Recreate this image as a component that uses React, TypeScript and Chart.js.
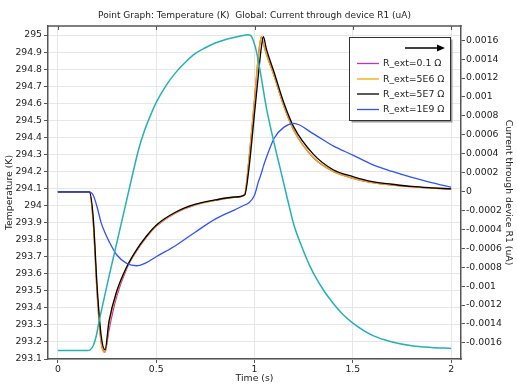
import React, { useEffect, useRef } from "react";
import { Chart, registerables } from "chart.js";

Chart.register(...registerables);

const titleText = "Point Graph: Temperature (K)  Global: Current through device R1 (uA)";
const xTitle = "Time (s)";
const yLeftTitle = "Temperature (K)";
const yRightTitle = "Current through device R1 (uA)";

const seriesLabels = ["R_ext=0.1 Ω", "R_ext=5E6 Ω", "R_ext=5E7 Ω", "R_ext=1E9 Ω"];
const seriesColors = ["#c22fc2", "#f5a800", "#000000", "#3352f2"];
const currentColor = "#26b0b4";

const tempTimes = [0, 0.1, 0.16, 0.18, 0.2, 0.22, 0.24, 0.26, 0.3, 0.35, 0.4, 0.45, 0.5, 0.6, 0.7, 0.8, 0.9, 0.95, 0.97, 1.0, 1.02, 1.035, 1.045, 1.06, 1.1, 1.15, 1.2, 1.3, 1.4, 1.5, 1.6, 1.7, 1.8, 1.9, 2.0];
const tempR01 = [294.08, 294.08, 294.08, 293.9, 293.48, 293.2, 293.14, 293.27, 293.47, 293.63, 293.733, 293.813, 293.878, 293.957, 294.004, 294.03, 294.048, 294.065, 294.25, 294.62, 294.88, 294.99, 294.95, 294.89, 294.76, 294.58, 294.44, 294.28, 294.2, 294.16, 294.135, 294.12, 294.11, 294.102, 294.096];
const tempR5E6 = [294.08, 294.08, 294.08, 293.9, 293.48, 293.2, 293.14, 293.3, 293.49, 293.635, 293.735, 293.815, 293.88, 293.958, 294.005, 294.03, 294.048, 294.065, 294.25, 294.62, 294.88, 294.99, 294.95, 294.89, 294.76, 294.58, 294.44, 294.28, 294.2, 294.16, 294.135, 294.12, 294.11, 294.102, 294.096];
const tempR5E7 = [294.08, 294.08, 294.08, 293.93, 293.52, 293.24, 293.153, 293.32, 293.5, 293.64, 293.74, 293.82, 293.885, 293.962, 294.008, 294.033, 294.05, 294.062, 294.2, 294.54, 294.77, 294.93, 294.99, 294.92, 294.78, 294.6, 294.46, 294.3, 294.21, 294.17, 294.14, 294.125, 294.112, 294.104, 294.098];
const tempR1E9 = [294.08, 294.08, 294.08, 294.06, 293.99, 293.9, 293.84, 293.79, 293.71, 293.661, 293.647, 293.665, 293.7, 293.766, 293.845, 293.92, 293.975, 294.003, 294.015, 294.06, 294.14, 294.19, 294.23, 294.28, 294.395, 294.46, 294.482, 294.42, 294.35, 294.296, 294.24, 294.2, 294.165, 294.135, 294.108];

const currentTimes = [0, 0.15, 0.165, 0.18, 0.195, 0.21, 0.23, 0.26, 0.3, 0.34, 0.38, 0.41, 0.44, 0.47, 0.5, 0.55, 0.6, 0.65, 0.7, 0.75, 0.8, 0.85, 0.9, 0.95, 0.965, 0.98, 0.995, 1.01, 1.03, 1.06, 1.1, 1.13, 1.17, 1.2, 1.24, 1.28, 1.32, 1.36, 1.4, 1.45, 1.5, 1.6, 1.7, 1.8, 1.9, 2.0];
const currentValues = [-0.00168, -0.00168, -0.001672, -0.00163, -0.00153, -0.00137, -0.00118, -0.0009, -0.00054, -0.00018, 0.00018, 0.00044, 0.00064, 0.0008, 0.00094, 0.00112, 0.00126, 0.00137, 0.00146, 0.00152, 0.00157, 0.001605, 0.00163, 0.001652, 0.001658, 0.00165, 0.00159, 0.00148, 0.00126, 0.00089, 0.00051, 0.00025, -0.0001, -0.00035, -0.00058, -0.00078, -0.00094, -0.00107, -0.00118, -0.0013, -0.00139, -0.00152, -0.00159, -0.00163, -0.001648, -0.001658];

const xTicks = [0, 0.5, 1, 1.5, 2];
const leftTicks = [293.1, 293.2, 293.3, 293.4, 293.5, 293.6, 293.7, 293.8, 293.9, 294, 294.1, 294.2, 294.3, 294.4, 294.5, 294.6, 294.7, 294.8, 294.9, 295];
const rightTicks = [-0.0016, -0.0014, -0.0012, -0.001, -0.0008, -0.0006, -0.0004, -0.0002, 0, 0.0002, 0.0004, 0.0006, 0.0008, 0.001, 0.0012, 0.0014, 0.0016];

const FONT = '"DejaVu Sans", sans-serif';
const TEXT = "#222222";
const AXIS = "#555555";

function pts(xs: number[], ys: number[]) {
  return xs.map((x, i) => ({ x, y: ys[i] }));
}

const decorPlugin = {
  id: "decor",
  afterDatasetsDraw(chart: any) {
    const { ctx, chartArea: a } = chart;
    const xs = chart.scales.x;
    ctx.save();
    // top border + inner ticks
    ctx.strokeStyle = AXIS;
    ctx.lineWidth = 1.5;
    ctx.beginPath();
    ctx.moveTo(a.left - 0.75, a.top);
    ctx.lineTo(a.right + 0.75, a.top);
    ctx.stroke();
    ctx.lineWidth = 1;
    xTicks.forEach((v) => {
      const px = Math.round(xs.getPixelForValue(v)) + 0.5;
      ctx.beginPath();
      ctx.moveTo(px, a.top);
      ctx.lineTo(px, a.top + 4);
      ctx.stroke();
    });

    // title
    ctx.fillStyle = TEXT;
    ctx.font = `9px ${FONT}`;
    ctx.textAlign = "center";
    ctx.textBaseline = "middle";
    ctx.fillText(titleText, (a.left + a.right) / 2, 16);

    // axis titles
    ctx.font = `9.3px ${FONT}`;
    ctx.fillText(xTitle, (a.left + a.right) / 2, 379);
    ctx.save();
    ctx.translate(10, (a.top + a.bottom) / 2);
    ctx.rotate(-Math.PI / 2);
    ctx.fillText(yLeftTitle, 0, 0);
    ctx.restore();
    ctx.save();
    ctx.translate(508, (a.top + a.bottom) / 2);
    ctx.rotate(Math.PI / 2);
    ctx.fillText(yRightTitle, 0, 0);
    ctx.restore();

    // legend
    const L = 349.5, T = 37.5, W = 101, H = 83;
    ctx.fillStyle = "#9a9a9a";
    ctx.fillRect(L + 2, T + 2, W, H);
    ctx.fillStyle = "#ffffff";
    ctx.fillRect(L, T, W, H);
    ctx.strokeStyle = "#333333";
    ctx.lineWidth = 1;
    ctx.strokeRect(L, T, W, H);

    // arrow row
    ctx.strokeStyle = "#000000";
    ctx.lineWidth = 1.5;
    ctx.beginPath();
    ctx.moveTo(405, 48);
    ctx.lineTo(440, 48);
    ctx.stroke();
    ctx.fillStyle = "#000000";
    ctx.beginPath();
    ctx.moveTo(445, 48);
    ctx.lineTo(437, 44.5);
    ctx.lineTo(437, 51.5);
    ctx.closePath();
    ctx.fill();

    const rowsY = [63.5, 79, 94, 109.5];
    ctx.textAlign = "left";
    ctx.font = `9.3px ${FONT}`;
    seriesLabels.forEach((lab, i) => {
      ctx.strokeStyle = seriesColors[i];
      ctx.lineWidth = 1.3;
      ctx.beginPath();
      ctx.moveTo(357, rowsY[i]);
      ctx.lineTo(379, rowsY[i]);
      ctx.stroke();
      ctx.fillStyle = TEXT;
      ctx.fillText(lab, 383, rowsY[i] + 0.5);
    });
    ctx.restore();
  },
};

export default function App() {
  const ref = useRef<HTMLCanvasElement | null>(null);
  useEffect(() => {
    if (!ref.current) return;
    const tempSets = [tempR01, tempR5E6, tempR5E7, tempR1E9];
    const datasets: any[] = tempSets.map((arr, i) => ({
      label: seriesLabels[i],
      data: pts(tempTimes, arr),
      borderColor: seriesColors[i],
      backgroundColor: seriesColors[i],
      borderWidth: 1.3,
      pointRadius: 0,
      cubicInterpolationMode: "monotone",
      yAxisID: "y",
      order: 5 - i,
    }));
    datasets.push({
      label: "Current",
      data: pts(currentTimes, currentValues),
      borderColor: currentColor,
      backgroundColor: currentColor,
      borderWidth: 1.5,
      pointRadius: 0,
      cubicInterpolationMode: "monotone",
      yAxisID: "y1",
      order: 0,
    });

    const tickFont = { family: FONT, size: 9.3 };
    const chart = new Chart(ref.current, {
      type: "line",
      data: { datasets },
      plugins: [decorPlugin],
      options: {
        responsive: false,
        animation: false,
        devicePixelRatio: 1,
        layout: { padding: { top: 26, left: 0, right: 0, bottom: 0 } },
        plugins: { legend: { display: false }, title: { display: false }, tooltip: { enabled: false } },
        scales: {
          x: {
            type: "linear",
            min: -0.05,
            max: 2.05,
            afterBuildTicks: (s: any) => {
              s.ticks = xTicks.map((v) => ({ value: v }));
            },
            afterFit: (s: any) => {
              s.height = 31;
            },
            ticks: { font: tickFont, color: TEXT, padding: 1, maxRotation: 0, callback: (v: any) => String(v) },
            grid: { color: "#e6e6e6", tickColor: AXIS, tickLength: 4, lineWidth: 1 },
            border: { display: true, color: AXIS, width: 1.5 },
          },
          y: {
            type: "linear",
            position: "left",
            min: 293.1,
            max: 295.053,
            afterBuildTicks: (s: any) => {
              s.ticks = leftTicks.map((v) => ({ value: v }));
            },
            afterFit: (s: any) => {
              s.width = 48;
            },
            ticks: { font: tickFont, color: TEXT, padding: 2, callback: (v: any) => String(Number(Number(v).toFixed(1))) },
            grid: { color: "#e6e6e6", tickColor: AXIS, tickLength: 4, lineWidth: 1 },
            border: { display: true, color: AXIS, width: 1.5 },
          },
          y1: {
            type: "linear",
            position: "right",
            min: -0.00177,
            max: 0.00175,
            afterBuildTicks: (s: any) => {
              s.ticks = rightTicks.map((v) => ({ value: v }));
            },
            afterFit: (s: any) => {
              s.width = 56;
            },
            ticks: { font: tickFont, color: TEXT, padding: 1, callback: (v: any) => String(Number(Number(v).toFixed(4))) },
            grid: { drawOnChartArea: false, color: AXIS, tickColor: AXIS, tickLength: 4, lineWidth: 1 },
            border: { display: true, color: AXIS, width: 1.5 },
          },
        },
      },
    });
    return () => chart.destroy();
  }, []);

  return (
    <div style={{ position: "fixed", left: 0, top: 0, width: 517, height: 390, background: "#ffffff" }}>
      <canvas ref={ref} width={517} height={390} style={{ width: 517, height: 390, display: "block" }} />
    </div>
  );
}
